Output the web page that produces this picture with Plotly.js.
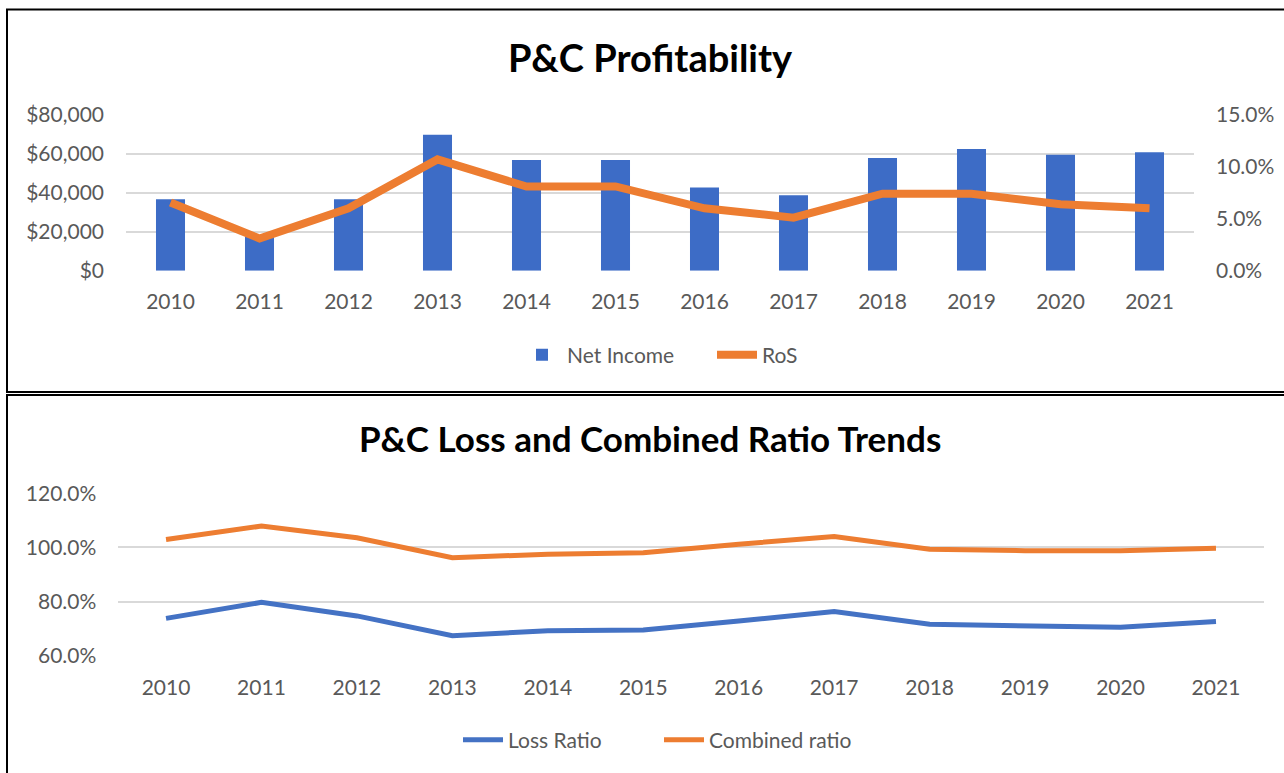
<!DOCTYPE html>
<html>
<head>
<meta charset="utf-8">
<script src="https://cdn.plot.ly/plotly-3.0.1.min.js"></script>
<style>
html,body{margin:0;padding:0;background:#fff;}
#chart{width:1284px;height:773px;}
</style>
</head>
<body>
<div id="chart"></div>
<script>
// ---- data ----
var years = ["2010","2011","2012","2013","2014","2015","2016","2017","2018","2019","2020","2021"];
var netIncome = [36700, 17500, 36600, 69700, 56800, 56800, 42700, 38700, 57800, 62400, 59400, 60700];
var ros = [0.0655, 0.031, 0.060, 0.107, 0.081, 0.081, 0.060, 0.051, 0.074, 0.074, 0.064, 0.060];
var lossRatio = [0.738, 0.797, 0.747, 0.674, 0.692, 0.695, 0.728, 0.763, 0.716, 0.711, 0.705, 0.726];
var combinedRatio = [1.029, 1.079, 1.036, 0.962, 0.975, 0.980, 1.012, 1.040, 0.993, 0.988, 0.988, 0.997];

var W = 1284, H = 773;
function px(x){ return x / W; }
function py(y){ return 1 - y / H; }

var tickFont = {family: "Lato, 'Open Sans', sans-serif", size: 21, color: "#595959"};
var titleFont1 = {family: "Lato, 'Open Sans', sans-serif", size: 38, color: "#000000", weight: "bold"};
var titleFont2 = {family: "Lato, 'Open Sans', sans-serif", size: 35, color: "#000000", weight: "bold"};
var blue = "#4472C4", orange = "#ED7D31", grid = "#d9d9d9";

var traces = [
  {type: "bar", x: years, y: netIncome, name: "Net Income", xaxis: "x", yaxis: "y",
   marker: {color: "#3d6cc6"}, legend: "legend"},
  {type: "scatter", mode: "lines", x: years, y: ros, name: "RoS", xaxis: "x", yaxis: "y2",
   line: {color: orange, width: 8}, legend: "legend"},
  {type: "scatter", mode: "lines", x: years, y: lossRatio, name: "Loss Ratio", xaxis: "x2", yaxis: "y3",
   line: {color: blue, width: 5}, legend: "legend2"},
  {type: "scatter", mode: "lines", x: years, y: combinedRatio, name: "Combined ratio", xaxis: "x2", yaxis: "y3",
   line: {color: orange, width: 5}, legend: "legend2"}
];

var layout = {
  width: W, height: H,
  margin: {l: 0, r: 0, t: 0, b: 0},
  paper_bgcolor: "#ffffff", plot_bgcolor: "rgba(0,0,0,0)",
  bargap: 0.674,
  showlegend: true,
  xaxis: {domain: [px(126), px(1194)], anchor: "y", type: "category", range: [-0.5, 11.5],
          showgrid: false, zeroline: false, showline: false, ticks: "", tickfont: tickFont,
          ticklabelstandoff: 16, fixedrange: true},
  yaxis: {domain: [py(270.7), py(114.7)], anchor: "x", range: [0, 80000], dtick: 20000, tick0: 0,
          tickformat: "$,.0f", gridcolor: grid, gridwidth: 2, zeroline: false, showline: false,
          tickfont: tickFont, ticks: "", ticklabelstandoff: 21},
  yaxis2: {overlaying: "y", side: "right", anchor: "x", range: [0, 0.15], dtick: 0.05, tick0: 0,
           tickformat: ".1%", showgrid: false, zeroline: false, showline: false,
           tickfont: tickFont, ticks: "", ticklabelstandoff: 21},
  xaxis2: {domain: [px(118.3), px(1263.7)], anchor: "y3", type: "category", range: [-0.5, 11.5],
           showgrid: false, zeroline: false, showline: false, ticks: "", tickfont: tickFont,
           ticklabelstandoff: 17},
  yaxis3: {domain: [py(655.7), py(493.3)], anchor: "x2", range: [0.6, 1.2], dtick: 0.2, tick0: 0.6,
           tickformat: ".1%", gridcolor: grid, gridwidth: 2, zeroline: false, showline: false,
           tickfont: tickFont, ticks: "", ticklabelstandoff: 21},
  legend: {orientation: "h", x: px(517), xanchor: "left", y: py(355), yanchor: "middle",
           font: tickFont, bgcolor: "rgba(0,0,0,0)", itemwidth: 40, traceorder: "normal",
           entrywidth: 140, entrywidthmode: "pixels"},
  legend2: {orientation: "h", x: px(458), xanchor: "left", y: py(740), yanchor: "middle",
            font: tickFont, bgcolor: "rgba(0,0,0,0)", itemwidth: 40, traceorder: "normal",
            entrywidth: 146, entrywidthmode: "pixels"},
  annotations: [
    {text: "P&C Profitability", xref: "paper", yref: "paper", x: px(650), y: py(57),
     xanchor: "center", yanchor: "middle", showarrow: false, font: titleFont1},
    {text: "P&C Loss and Combined Ratio Trends", xref: "paper", yref: "paper", x: px(650), y: py(438),
     xanchor: "center", yanchor: "middle", showarrow: false, font: titleFont2}
  ],
  shapes: [
    {type: "rect", xref: "paper", yref: "paper", x0: px(7), x1: px(1300), y0: py(392), y1: py(9.5),
     line: {color: "#000000", width: 2}, fillcolor: "rgba(0,0,0,0)", layer: "below"},
    {type: "rect", xref: "paper", yref: "paper", x0: px(7), x1: px(1300), y0: py(790), y1: py(395),
     line: {color: "#000000", width: 2}, fillcolor: "rgba(0,0,0,0)", layer: "below"}
  ]
};

Plotly.newPlot("chart", traces, layout, {displayModeBar: false, staticPlot: true});
</script>
</body>
</html>
